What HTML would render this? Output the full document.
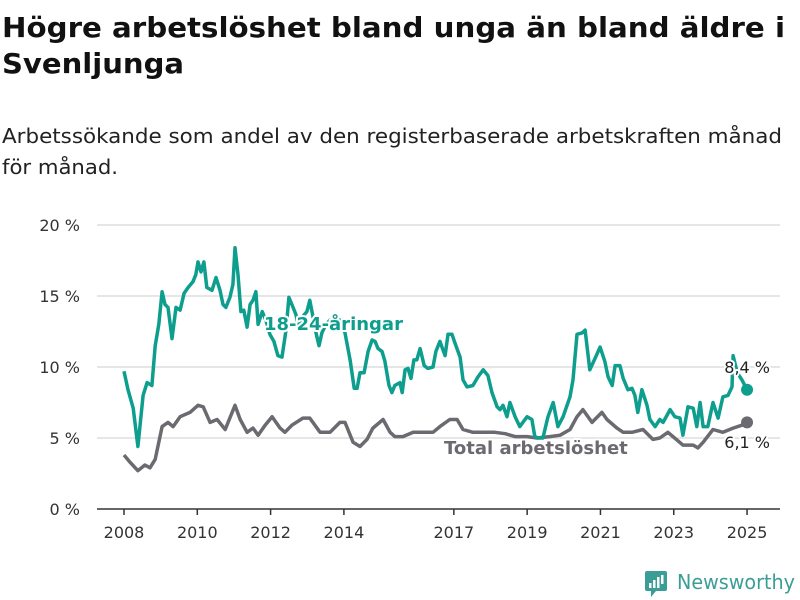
<!DOCTYPE html>
<html><head><meta charset="utf-8"><style>
body{margin:0;background:#fff;}
svg{display:block;font-family:"DejaVu Sans","Liberation Sans",sans-serif;}
.lbl{paint-order:stroke;stroke:#fff;stroke-width:4px;stroke-linejoin:round;}
</style></head><body>
<svg id="chart" width="800" height="600" viewBox="0 0 800 600">
<text x="2" y="37" font-size="28" font-weight="bold" fill="#111" textLength="783" lengthAdjust="spacingAndGlyphs">Högre arbetslöshet bland unga än bland äldre i</text>
<text x="2" y="73" font-size="28" font-weight="bold" fill="#111" textLength="182" lengthAdjust="spacingAndGlyphs">Svenljunga</text>
<text x="2" y="143" font-size="20" fill="#222" textLength="780" lengthAdjust="spacingAndGlyphs">Arbetssökande som andel av den registerbaserade arbetskraften månad</text>
<text x="2" y="174" font-size="20" fill="#222" textLength="116" lengthAdjust="spacingAndGlyphs">för månad.</text>
<g id="grid"></g><g id="axes"></g><g id="lines"></g><g id="labels"></g>
<g>
<rect x="645" y="571" width="22" height="20" rx="2" fill="#3a9e96"/>
<polygon points="651,591 656,591 651,597" fill="#3a9e96"/>
<rect x="649" y="583" width="2.5" height="5" fill="#fff"/><rect x="653" y="580" width="2.5" height="8" fill="#fff"/><rect x="657" y="577" width="2.5" height="11" fill="#fff"/><rect x="661" y="575" width="2.5" height="9" fill="#fff"/>
<text x="677" y="589" font-size="20" fill="#3a9e96" textLength="118" lengthAdjust="spacingAndGlyphs">Newsworthy</text>
</g>
</svg>
<script>
const yTicks=[0,5,10,15,20];
const xTickYears=[2008,2010,2012,2014,2017,2019,2021,2023,2025];
const youthYears=[2008.00,2008.11,2008.25,2008.38,2008.52,2008.63,2008.76,2008.85,2008.95,2009.04,2009.12,2009.20,2009.31,2009.42,2009.53,2009.64,2009.75,2009.88,2009.96,2010.02,2010.10,2010.18,2010.26,2010.40,2010.51,2010.62,2010.70,2010.78,2010.89,2010.97,2011.03,2011.11,2011.19,2011.27,2011.36,2011.44,2011.52,2011.60,2011.66,2011.77,2011.87,2011.98,2012.09,2012.20,2012.31,2012.42,2012.50,2012.58,2012.69,2012.77,2012.86,2012.99,2013.07,2013.16,2013.24,2013.32,2013.40,2013.51,2013.62,2013.76,2013.89,2014.03,2014.17,2014.28,2014.36,2014.44,2014.55,2014.66,2014.77,2014.85,2014.93,2015.04,2015.12,2015.23,2015.31,2015.39,2015.53,2015.59,2015.67,2015.75,2015.83,2015.91,2015.99,2016.08,2016.19,2016.29,2016.43,2016.51,2016.62,2016.76,2016.84,2016.95,2017.03,2017.17,2017.25,2017.36,2017.52,2017.66,2017.80,2017.93,2018.04,2018.18,2018.26,2018.34,2018.45,2018.53,2018.67,2018.80,2019.00,2019.13,2019.21,2019.30,2019.43,2019.57,2019.71,2019.84,2019.98,2020.17,2020.25,2020.36,2020.50,2020.58,2020.71,2020.85,2020.99,2021.12,2021.21,2021.32,2021.40,2021.53,2021.62,2021.75,2021.86,2021.94,2022.02,2022.13,2022.27,2022.35,2022.49,2022.62,2022.71,2022.90,2023.03,2023.17,2023.25,2023.39,2023.53,2023.63,2023.72,2023.80,2023.93,2024.07,2024.21,2024.34,2024.48,2024.59,2024.62,2024.73,2024.86,2025.00];
const youthValues=[9.7,8.4,7.1,4.4,8.0,8.9,8.7,11.5,13.0,15.3,14.4,14.2,12.0,14.2,14.0,15.2,15.6,16.0,16.5,17.4,16.7,17.4,15.6,15.4,16.3,15.4,14.4,14.2,14.9,15.8,18.4,16.5,13.9,14.0,12.8,14.4,14.7,15.3,13.0,13.9,13.3,12.3,11.8,10.8,10.7,12.6,14.9,14.4,13.7,12.8,13.5,13.9,14.7,13.5,12.4,11.5,12.4,13.0,13.3,12.6,13.3,12.4,10.5,8.5,8.5,9.6,9.6,11.1,11.9,11.8,11.3,11.1,10.4,8.7,8.2,8.7,8.9,8.2,9.8,9.9,9.2,10.5,10.5,11.3,10.1,9.9,10.0,11.1,11.8,10.8,12.3,12.3,11.7,10.7,9.1,8.6,8.7,9.3,9.8,9.4,8.2,7.2,7.0,7.3,6.5,7.5,6.5,5.8,6.5,6.3,5.1,5.0,5.0,6.5,7.5,5.8,6.5,7.9,9.1,12.3,12.4,12.6,9.8,10.6,11.4,10.4,9.3,8.7,10.1,10.1,9.2,8.4,8.5,8.0,6.8,8.4,7.3,6.3,5.8,6.3,6.1,7.0,6.5,6.4,5.2,7.2,7.1,5.8,7.5,5.8,5.8,7.5,6.4,7.9,8.0,8.6,10.8,9.6,9.1,8.4];
const totalYears=[2008.00,2008.16,2008.38,2008.57,2008.71,2008.85,2009.04,2009.20,2009.34,2009.53,2009.80,2010.02,2010.16,2010.35,2010.54,2010.76,2011.03,2011.17,2011.36,2011.52,2011.66,2011.85,2012.04,2012.26,2012.39,2012.58,2012.88,2013.07,2013.35,2013.62,2013.89,2014.03,2014.25,2014.44,2014.63,2014.79,2015.07,2015.26,2015.39,2015.61,2015.89,2016.21,2016.43,2016.62,2016.89,2017.09,2017.25,2017.52,2017.71,2018.12,2018.40,2018.67,2019.00,2019.27,2019.62,2019.90,2020.17,2020.36,2020.52,2020.77,2021.04,2021.18,2021.45,2021.62,2021.86,2022.16,2022.43,2022.62,2022.84,2022.98,2023.25,2023.53,2023.66,2023.80,2024.07,2024.34,2024.62,2024.86,2025.00];
const totalValues=[3.8,3.3,2.7,3.1,2.9,3.5,5.8,6.1,5.8,6.5,6.8,7.3,7.2,6.1,6.3,5.6,7.3,6.3,5.4,5.7,5.2,5.9,6.5,5.7,5.4,5.9,6.4,6.4,5.4,5.4,6.1,6.1,4.7,4.4,4.9,5.7,6.3,5.4,5.1,5.1,5.4,5.4,5.4,5.8,6.3,6.3,5.6,5.4,5.4,5.4,5.3,5.1,5.1,5.0,5.1,5.2,5.6,6.5,7.0,6.1,6.8,6.3,5.7,5.4,5.4,5.6,4.9,5.0,5.4,5.1,4.5,4.5,4.3,4.7,5.6,5.4,5.7,5.9,6.1];

const NS='http://www.w3.org/2000/svg';
const X0=124,PXY=36.65,Y0=509,PXV=14.2;
function xs(yr){return X0+(yr-2008)*PXY;}
function ys(v){return Y0-v*PXV;}
function mk(tag,attrs,parent){const e=document.createElementNS(NS,tag);for(const k in attrs)e.setAttribute(k,attrs[k]);parent.appendChild(e);return e;}
const grid=document.getElementById('grid'),axes=document.getElementById('axes'),lines=document.getElementById('lines'),labels=document.getElementById('labels');
yTicks.forEach(v=>{
  const l=mk('line',{x1:97,x2:780,y1:ys(v),y2:ys(v),stroke:v===0?'#333':'#ddd','stroke-width':1.5},grid);
  
  
  const t=mk('text',{x:80,y:ys(v)+6,'text-anchor':'end','font-size':16,fill:'#333'},axes);
  t.textContent=v+' %';
  
  
});
xTickYears.forEach(yr=>{
  const tk=mk('line',{x1:xs(yr),x2:xs(yr),y1:Y0,y2:Y0+6,stroke:'#333','stroke-width':1.5},axes);
  
  
  const t=mk('text',{x:xs(yr),y:538,'text-anchor':'middle','font-size':16,fill:'#333'},axes);
  t.textContent=yr;
  
  
});
function path(yrs,vals){return yrs.map((y,i)=>(i?'L':'M')+xs(y).toFixed(1)+','+ys(vals[i]).toFixed(1)).join('');}
const pt=mk('path',{d:path(totalYears,totalValues),fill:'none',stroke:'#6b6a70','stroke-width':3.5,'stroke-linejoin':'round'},lines);


const py=mk('path',{d:path(youthYears,youthValues),fill:'none',stroke:'#0e9e8e','stroke-width':3.5,'stroke-linejoin':'round'},lines);


const dy=mk('circle',{cx:xs(youthYears[youthYears.length-1]),cy:ys(youthValues[youthValues.length-1]),r:6,fill:'#0e9e8e'},lines);


const dt=mk('circle',{cx:xs(totalYears[totalYears.length-1]),cy:ys(totalValues[totalValues.length-1]),r:6,fill:'#6b6a70'},lines);


function lab(txt,x,y,opts,name){const t=mk('text',Object.assign({x:x,y:y,class:'lbl'},opts),labels);t.textContent=txt;return t;}
lab('18-24-åringar',264,330,{'font-size':18,'font-weight':'bold',fill:'#0e9e8e'},'youth-series-label');
lab('Total arbetslöshet',444,454,{'font-size':18,'font-weight':'bold',fill:'#6b6a70'},'total-series-label');
lab('8,4 %',770,373,{'font-size':16,fill:'#222','text-anchor':'end'},'youth-end-value');
lab('6,1 %',770,448,{'font-size':16,fill:'#222','text-anchor':'end'},'total-end-value');
</script>
</body></html>
